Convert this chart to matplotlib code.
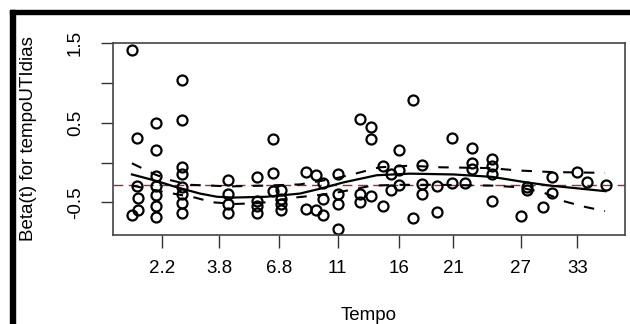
import numpy as np
import matplotlib
matplotlib.use("Agg")
import matplotlib.pyplot as plt
from matplotlib.patches import Rectangle

plt.rcParams['font.family'] = ['Liberation Sans', 'DejaVu Sans']

# residuos (tempo transformado, beta(t))
x_pts = [0.037, 0.037, 0.047, 0.047, 0.049, 0.049,
         0.084, 0.084, 0.084, 0.084, 0.084, 0.084, 0.084,
         0.135, 0.135, 0.135, 0.135, 0.135, 0.135, 0.135, 0.135,
         0.225, 0.225, 0.225, 0.225,
         0.282, 0.282, 0.282, 0.282,
         0.312, 0.312, 0.312,
         0.328, 0.328, 0.328, 0.328,
         0.377, 0.377, 0.397, 0.397, 0.411, 0.411, 0.411,
         0.440, 0.440, 0.440, 0.440,
         0.482, 0.483, 0.483, 0.504, 0.504, 0.504,
         0.527, 0.527, 0.542, 0.542,
         0.559, 0.559, 0.559, 0.585, 0.585,
         0.604, 0.604, 0.604, 0.632, 0.632,
         0.663, 0.663, 0.688, 0.701, 0.701, 0.701,
         0.740, 0.740, 0.740, 0.740,
         0.796, 0.809, 0.809, 0.840, 0.857, 0.857,
         0.906, 0.925, 0.962]
y_pts = [1.41, -0.66, 0.31, -0.29, -0.45, -0.59,
         0.49, 0.16, -0.17, -0.29, -0.41, -0.54, -0.68,
         1.03, 0.53, -0.06, -0.15, -0.31, -0.39, -0.51, -0.64,
         -0.22, -0.39, -0.52, -0.64,
         -0.18, -0.48, -0.54, -0.64,
         0.30, -0.13, -0.36,
         -0.34, -0.46, -0.52, -0.60,
         -0.12, -0.58, -0.16, -0.59, -0.26, -0.46, -0.66,
         -0.15, -0.40, -0.52, -0.83,
         0.54, -0.40, -0.50, 0.45, 0.29, -0.42,
         -0.04, -0.54, -0.14, -0.35,
         0.16, -0.09, -0.28, 0.78, -0.70,
         -0.03, -0.27, -0.39, -0.29, -0.62,
         0.31, -0.26, -0.26, 0.18, -0.01, -0.08,
         0.04, -0.04, -0.15, -0.48,
         -0.67, -0.31, -0.35, -0.56, -0.18, -0.38,
         -0.12, -0.25, -0.28]

# curva suavizada e bandas
fit_x = [0.037, 0.084, 0.124, 0.170, 0.203, 0.234, 0.300, 0.365, 0.404,
         0.450, 0.515, 0.580, 0.665, 0.740, 0.808, 0.854, 0.962]
fit_y = [-0.15, -0.23, -0.31, -0.39, -0.43, -0.44, -0.43, -0.39, -0.33,
         -0.25, -0.16, -0.14, -0.15, -0.18, -0.25, -0.29, -0.36]
up_x = [0.037, 0.053, 0.082, 0.111, 0.150, 0.229, 0.297, 0.365, 0.434,
        0.473, 0.521, 0.580, 0.639, 0.736, 0.791, 0.857, 0.961]
up_y = [-0.01, -0.06, -0.15, -0.22, -0.28, -0.30, -0.29, -0.275, -0.20,
        -0.14, -0.06, -0.04, -0.06, -0.07, -0.10, -0.12, -0.13]
lo_x = [0.037, 0.092, 0.160, 0.195, 0.240, 0.287, 0.355, 0.400, 0.439,
        0.479, 0.506, 0.561, 0.639, 0.740, 0.791, 0.840, 0.883, 0.924, 0.961]
lo_y = [-0.29, -0.36, -0.44, -0.50, -0.52, -0.51, -0.44, -0.41, -0.375,
        -0.325, -0.29, -0.28, -0.28, -0.29, -0.31, -0.375, -0.49, -0.56, -0.61]
coef = -0.28

tick_pos = [0.095, 0.208, 0.325, 0.439, 0.559, 0.664, 0.796, 0.907]
tick_lab = ["2.2", "3.8", "6.8", "11", "16", "21", "27", "33"]
y_ticks = [-0.5, 0.0, 0.5, 1.0, 1.5]
y_lab = ["-0.5", "", "0.5", "", "1.5"]

fig = plt.figure(figsize=(6.3, 3.24), dpi=100)
ax = fig.add_axes([113/630, 89/324, 512/630, 192/324])

ax.axhline(coef, color="#a52a2a", lw=1.0, dashes=(7, 4))
ax.plot(x_pts, y_pts, linestyle="none", marker="o", markersize=7.2,
        markerfacecolor="none", markeredgecolor="black", markeredgewidth=1.6)
ax.plot(fit_x, fit_y, color="black", lw=1.6)
ax.plot(up_x, up_y, color="black", lw=1.5, dashes=(5, 5))
ax.plot(lo_x, lo_y, color="black", lw=1.5, dashes=(5, 5))

ax.set_xlim(0, 1)
ax.set_ylim(-0.91, 1.5)
ax.set_xticks(tick_pos)
ax.set_xticklabels(tick_lab)
ax.set_yticks(y_ticks)
ax.set_yticklabels(y_lab, rotation=90, va="center")
ax.tick_params(axis="both", length=9, width=1.0, color="#333333",
               labelsize=13.5, direction="out")
ax.tick_params(axis="x", pad=9)
ax.tick_params(axis="y", pad=12)
for s in ax.spines.values():
    s.set_color("#444444")
    s.set_linewidth(1.2)

ax.set_xlabel("Tempo", fontsize=13.5, va="center")
ax.xaxis.set_label_coords(0.5, -0.417)
ax.set_ylabel("Beta(t) for tempoUTIdias", fontsize=13.5, va="center")
ax.yaxis.set_label_coords(-0.166, 0.5)

# moldura preta (esquerda e topo)
fig.add_artist(Rectangle((10/630, 0), 5/630, 314/324,
                         transform=fig.transFigure, color="black"))
fig.add_artist(Rectangle((10/630, 310/324), 620/630, 4.5/324,
                         transform=fig.transFigure, color="black"))

fig.savefig("out.png", dpi=100)
